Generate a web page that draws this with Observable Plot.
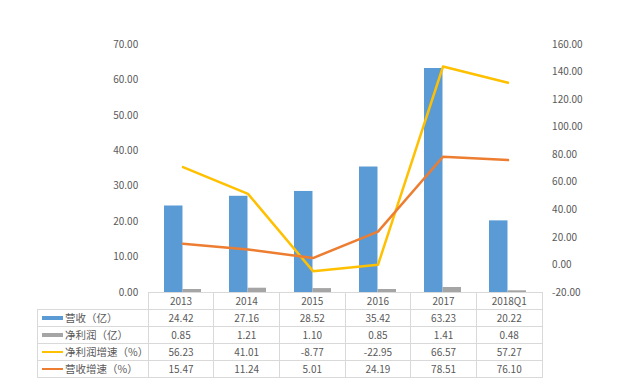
<!DOCTYPE html>
<html>
<head>
<meta charset="utf-8">
<script src="https://cdn.jsdelivr.net/npm/d3@7"></script>
<script src="https://cdn.jsdelivr.net/npm/@observablehq/plot@0.6"></script>
<style>
  html, body { margin: 0; padding: 0; background: #fff; }
  #chart { position: relative; width: 628px; height: 388px; font-family: "Noto Sans CJK SC", "Noto Sans", sans-serif; }
  #chart table { position: absolute; border-collapse: collapse; table-layout: fixed; font-size: 10px; color: #595959; }
  #chart td { border: 1px solid #d9d9d9; height: 16px; padding: 0; text-align: center; white-space: nowrap; line-height: 16px; }
  #chart td.lab { text-align: left; color: #595959; font-size: 10.5px; }
  #chart tr.head td.blank { border: none; }
  .sw { display: inline-block; width: 21px; vertical-align: middle; margin: 0 2px 0 4px; position: relative; top: -1px; }
</style>
</head>
<body>
<div id="chart"></div>
<script>
const categories = ["2013", "2014", "2015", "2016", "2017", "2018Q1"];
const revenue = [24.42, 27.16, 28.52, 35.42, 63.23, 20.22];
const netProfit = [0.85, 1.21, 1.10, 0.85, 1.41, 0.48];
// net profit growth line as drawn on the right axis
const profitGrowthDrawn = [71.0, 51.6, -4.5, 0.1, 144.0, 132.2];
const revenueGrowth = [15.47, 11.24, 5.01, 24.19, 78.51, 76.10];
// table labels
const profitGrowthLabels = ["56.23", "41.01", "-8.77", "-22.95", "66.57", "57.27"];
const seriesNames = ["营收（亿）", "净利润（亿）", "净利润增速（%）", "营收增速（%）"];
const leftTicks = [0, 10, 20, 30, 40, 50, 60, 70];
const rightTicks = [-20, 0, 20, 40, 60, 80, 100, 120, 140, 160];

const colors = {rev: "#5B9BD5", np: "#A5A5A5", pg: "#FFC000", rg: "#ED7D31"};

const W = 628, ML = 147.7, MR = 86.4, MT = 44, PLOT_BOTTOM = 292;
const step = (W - ML - MR) / categories.length;
const padInner = 0.436;
const bw = step * (1 - padInner);

const leftMax = 70, rMin = -20, rMax = 160;
const toLeft = v => (v - rMin) * leftMax / (rMax - rMin);
const fromLeft = v => v * (rMax - rMin) / leftMax + rMin;

const data = categories.map((c, i) => ({
  cat: c, rev: revenue[i], np: netProfit[i], pg: profitGrowthDrawn[i], rg: revenueGrowth[i]
}));

const plot = Plot.plot({
  width: W,
  height: 388,
  marginLeft: ML,
  marginRight: MR,
  marginTop: MT,
  marginBottom: 388 - PLOT_BOTTOM,
  style: {fontFamily: '"Noto Sans CJK SC", "Noto Sans", sans-serif', fontSize: "10px", color: "#595959", background: "transparent", overflow: "visible"},
  x: {domain: categories, paddingInner: padInner, paddingOuter: padInner / 2, axis: null},
  y: {domain: [0, leftMax]},
  marks: [
    Plot.axisY(leftTicks, {anchor: "left", tickSize: 0, tickPadding: 10, tickFormat: d => d.toFixed(2)}),
    Plot.axisY(rightTicks.map(toLeft), {anchor: "right", tickSize: 0, tickPadding: 10, tickFormat: d => Math.round(fromLeft(d)).toFixed(2)}),
    Plot.barY(data, {x: "cat", y: "rev", fill: colors.rev, insetRight: bw / 2}),
    Plot.barY(data, {x: "cat", y: "np", fill: colors.np, insetLeft: bw / 2}),
    Plot.line(data, {x: "cat", y: d => toLeft(d.pg), stroke: colors.pg, strokeWidth: 2.5}),
    Plot.line(data, {x: "cat", y: d => toLeft(d.rg), stroke: colors.rg, strokeWidth: 2.5})
  ]
});

const chart = document.getElementById("chart");
chart.appendChild(plot);

// data table below the plot, aligned to the band columns
const LABEL_LEFT = 37;
const table = document.createElement("table");
table.style.left = LABEL_LEFT + "px";
table.style.top = PLOT_BOTTOM + "px";
table.style.width = (W - MR - LABEL_LEFT) + "px";
const colgroup = document.createElement("colgroup");
const c0 = document.createElement("col"); c0.style.width = (ML - LABEL_LEFT) + "px"; colgroup.appendChild(c0);
categories.forEach(() => { const c = document.createElement("col"); c.style.width = step + "px"; colgroup.appendChild(c); });
table.appendChild(colgroup);

const head = document.createElement("tr"); head.className = "head";
const blank = document.createElement("td"); blank.className = "blank"; head.appendChild(blank);
categories.forEach(c => { const td = document.createElement("td"); td.textContent = c; head.appendChild(td); });
table.appendChild(head);

const rowValues = [
  revenue.map(v => v.toFixed(2)),
  netProfit.map(v => v.toFixed(2)),
  profitGrowthLabels,
  revenueGrowth.map(v => v.toFixed(2))
];
const swatch = [
  {c: colors.rev, h: 4}, {c: colors.np, h: 4}, {c: colors.pg, h: 2}, {c: colors.rg, h: 2}
];
seriesNames.forEach((name, r) => {
  const tr = document.createElement("tr");
  const lab = document.createElement("td"); lab.className = "lab";
  const sw = document.createElement("span"); sw.className = "sw";
  sw.style.height = swatch[r].h + "px"; sw.style.background = swatch[r].c;
  lab.appendChild(sw);
  lab.appendChild(document.createTextNode(name));
  tr.appendChild(lab);
  rowValues[r].forEach(v => { const td = document.createElement("td"); td.textContent = v; tr.appendChild(td); });
  table.appendChild(tr);
});
chart.appendChild(table);
</script>
</body>
</html>
